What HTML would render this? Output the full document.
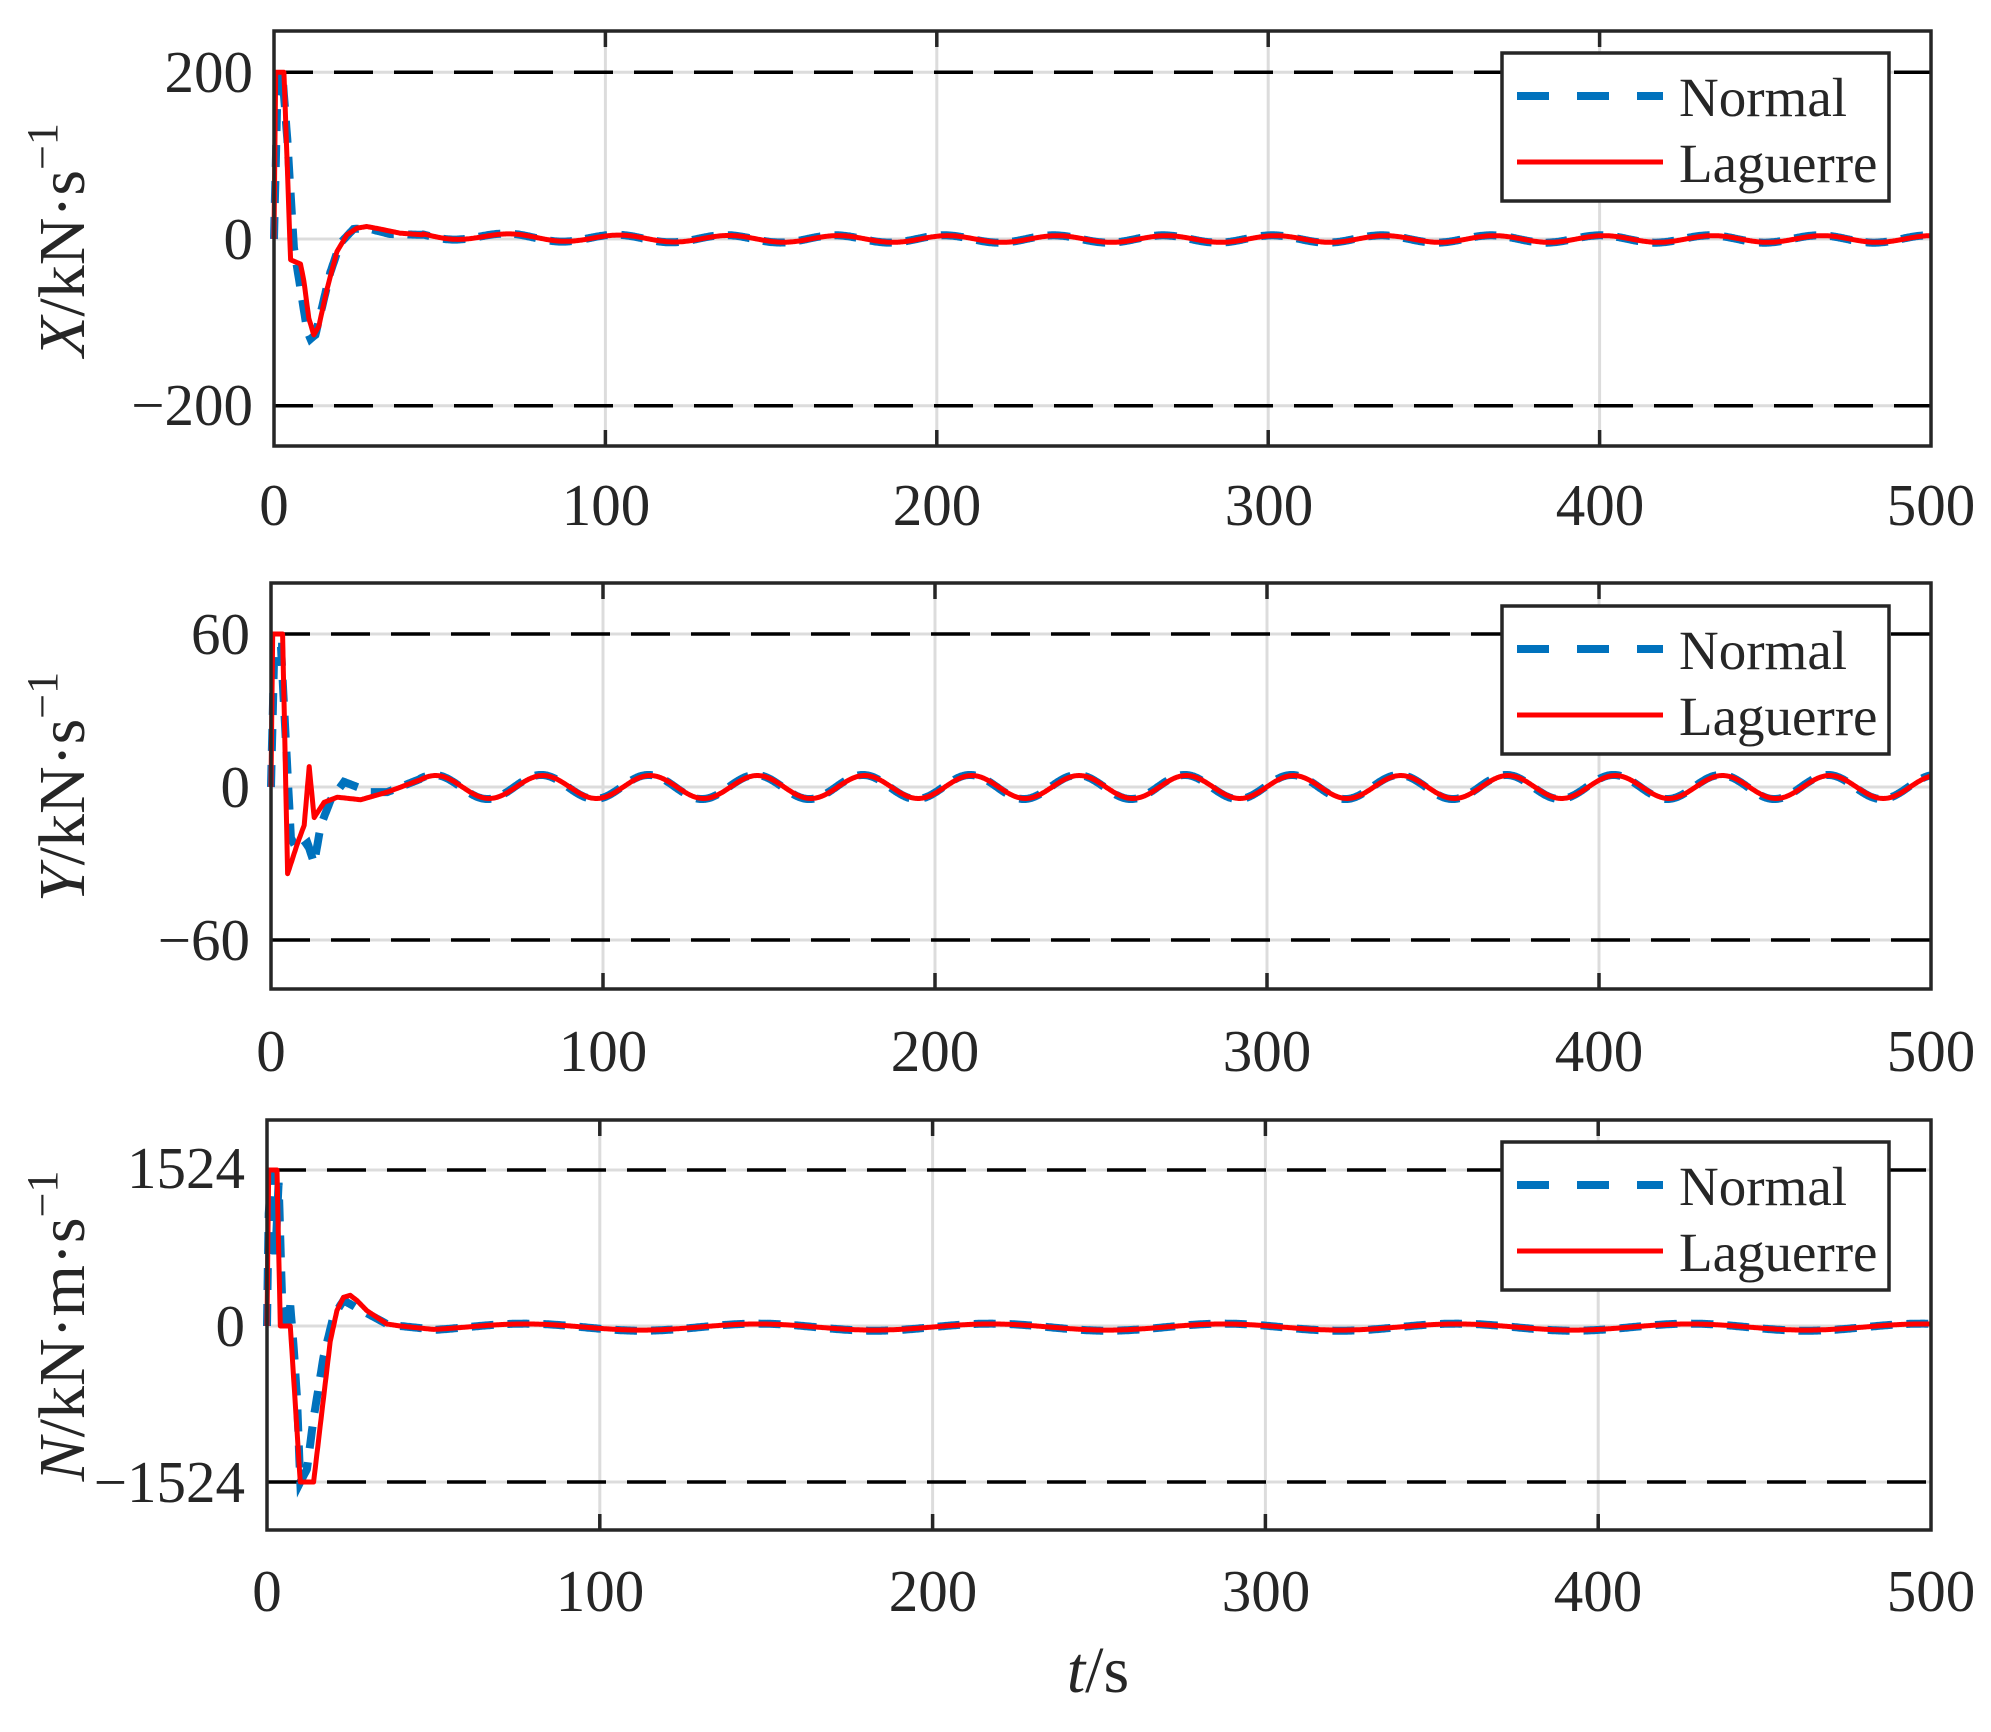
<!DOCTYPE html>
<html><head><meta charset="utf-8"><style>
html,body{margin:0;padding:0;background:#fff;}
svg{display:block;}
text{font-family:"Liberation Serif",serif;fill:#262626;}
</style></head><body>
<svg id="s" width="1991" height="1732" viewBox="0 0 1991 1732" xmlns="http://www.w3.org/2000/svg">
<g id="g"></g>
<g font-size="59" text-anchor="middle">
<text x="274" y="525">0</text><text x="606" y="525">100</text><text x="937" y="525">200</text><text x="1269" y="525">300</text><text x="1600" y="525">400</text><text x="1931" y="525">500</text>
<text x="271" y="1071">0</text><text x="603" y="1071">100</text><text x="935" y="1071">200</text><text x="1267" y="1071">300</text><text x="1599" y="1071">400</text><text x="1931" y="1071">500</text>
<text x="267" y="1611">0</text><text x="600" y="1611">100</text><text x="933" y="1611">200</text><text x="1266" y="1611">300</text><text x="1598" y="1611">400</text><text x="1931" y="1611">500</text>
</g>
<g font-size="59" text-anchor="end">
<text x="253" y="92">200</text><text x="253" y="259">0</text><text x="253" y="425">−200</text>
<text x="250" y="654">60</text><text x="250" y="807">0</text><text x="250" y="960">−60</text>
<text x="245" y="1188">1524</text><text x="245" y="1346">0</text><text x="245" y="1502">−1524</text>
</g>
<g font-size="66">
<text transform="translate(84,240) rotate(-90)" text-anchor="middle"><tspan font-style="italic">X</tspan>/kN·s<tspan dy="-27" font-size="44">−1</tspan></text>
<text transform="translate(84,787) rotate(-90)" text-anchor="middle"><tspan font-style="italic">Y</tspan>/kN·s<tspan dy="-27" font-size="44">−1</tspan></text>
<text transform="translate(84,1326) rotate(-90)" text-anchor="middle"><tspan font-style="italic">N</tspan>/kN·m·s<tspan dy="-27" font-size="44">−1</tspan></text>
<text x="1098" y="1692" text-anchor="middle"><tspan font-style="italic">t</tspan>/s</text>
</g>
</svg>
<script>
var g=document.getElementById('g');var ns='http://www.w3.org/2000/svg';
function el(t,a){var e=document.createElementNS(ns,t);for(var k in a)e.setAttribute(k,a[k]);g.appendChild(e);return e;}
function interp(kp,t){for(var i=0;i<kp.length-1;i++){if(t<=kp[i+1][0]){var a=kp[i],b=kp[i+1];var f=(t-a[0])/(b[0]-a[0]||1);return a[1]+(b[1]-a[1])*f;}}return kp[kp.length-1][1];}
function panel(P){
 var L=P.l,R=1931,T=P.t,B=P.b;
 function X(t){return L+(R-L)*t/500;}
 function Y(v){return P.y0-v*P.ys;}
 for(var i=1;i<5;i++)el('line',{x1:X(i*100),x2:X(i*100),y1:T,y2:B,stroke:'#dcdcdc','stroke-width':3});
 [0,P.lim,-P.lim].forEach(function(v){el('line',{x1:L,x2:R,y1:Y(v),y2:Y(v),stroke:'#dcdcdc','stroke-width':3});});
 el('line',{x1:L,x2:R,y1:Y(P.lim),y2:Y(P.lim),stroke:'#000','stroke-width':3.5,'stroke-dasharray':'39 21'});
 el('line',{x1:L,x2:R,y1:Y(-P.lim),y2:Y(-P.lim),stroke:'#000','stroke-width':3.5,'stroke-dasharray':'39 21'});
 function path(f){var d='';for(var t=0;t<=500;t+=0.25){d+=(t?'L':'M')+X(t).toFixed(1)+' '+Y(f(t)).toFixed(1);}return d;}
 el('path',{d:path(P.blue),fill:'none',stroke:'#0072BD','stroke-width':8,'stroke-dasharray':'22 14'});
 el('path',{d:path(P.red),fill:'none',stroke:'#ff0000','stroke-width':5,'stroke-linejoin':'round'});
 el('rect',{x:L,y:T,width:R-L,height:B-T,fill:'none',stroke:'#262626','stroke-width':3.5});
 for(var i=1;i<5;i++){el('line',{x1:X(i*100),x2:X(i*100),y1:T,y2:T+16,stroke:'#262626','stroke-width':3.5});el('line',{x1:X(i*100),x2:X(i*100),y1:B,y2:B-16,stroke:'#262626','stroke-width':3.5});}
 var ly=P.ly;
 el('rect',{x:1502,y:ly,width:387,height:148,fill:'#fff',stroke:'#262626','stroke-width':3.5});
 el('line',{x1:1517,x2:1663,y1:ly+43,y2:ly+43,stroke:'#0072BD','stroke-width':8,'stroke-dasharray':'32 28'});
 el('line',{x1:1517,x2:1663,y1:ly+109,y2:ly+109,stroke:'#ff0000','stroke-width':5});
 var t1=el('text',{x:1679,y:ly+63,'font-size':55,fill:'#000'});t1.textContent='Normal';
 var t2=el('text',{x:1679,y:ly+129,'font-size':55,fill:'#000'});t2.textContent='Laguerre';
}
var PI=Math.PI;
var xr=[[0,0],[0.5,200],[3,200],[5,-25],[8,-30],[9,-50],[10.5,-95],[12,-115],[13.5,-105],[16,-60],[19,-15],[22,5],[25,13],[28,15],[32,12],[38,7],[45,5]];
var xb=[[0,0],[1,170],[2.5,200],[4,120],[6,-10],[8,-60],[10,-110],[11,-120],[12.5,-115],[14,-90],[17,-40],[20,-5],[24,12],[28,13],[35,6],[45,5]];
function xs(t,ph){return 4*Math.sin(2*PI*(t-ph)/33);}
panel({l:274,t:31,b:446,y0:239,ys:166.7/200,lim:200,ly:53,
 red:function(t){return t<45?interp(xr,t):5*Math.exp(-(t-45)/30)+xs(t,30);},
 blue:function(t){return t<45?interp(xb,t):5*Math.exp(-(t-45)/30)+xs(t,29)*1.1;}});
var yr=[[0,0],[0.5,60],[3.5,60],[5,-34],[8,-22],[10,-15],[11.5,8],[13,-12],[16,-6],[20,-4],[27,-5],[35,-2]];
var yb=[[0,0],[1,55],[3,55],[6,-20],[8,-25],[11,-22],[13,-30],[15,-15],[18,-5],[22,2],[26,0],[30,-2],[35,-2]];
function ys(t,ph){return 4.5*Math.sin(2*PI*(t-ph)/32.3);}
panel({l:271,t:583,b:989,y0:787,ys:153/60,lim:60,ly:606,
 red:function(t){return t<35?interp(yr,t):(t<45?-2+(t-35)/10*(2+ys(45,41.5)):ys(t,41.5));},
 blue:function(t){return t<35?interp(yb,t):(t<45?-2+(t-35)/10*(2+ys(45,41)):ys(t,41)*1.05);}});
var nr=[[0,0],[0.5,1524],[3,1524],[4,0],[7,0],[10,-1524],[14,-1524],[17,-700],[19,-150],[21,150],[23,280],[25,300],[27,250],[30,150],[36,20],[40,0]];
var nb=[[0,0],[0.5,1100],[1.5,1500],[2.5,700],[3.5,1400],[4.5,300],[6,0],[7,200],[8,-200],[9,-700],[10,-1524],[12,-1400],[14,-900],[17,-300],[20,100],[23,250],[28,160],[36,20],[40,0]];
function nsn(t){return 30*Math.sin(2*PI*(t-60)/70)-10;}
panel({l:267,t:1120,b:1530,y0:1326,ys:156/1524,lim:1524,ly:1142,
 red:function(t){return t<40?interp(nr,t):(t<50?(t-40)/10*nsn(50):nsn(t));},
 blue:function(t){return t<40?interp(nb,t):(t<50?(t-40)/10*nsn(50):nsn(t)*1.15);}});
</script>
</body></html>
